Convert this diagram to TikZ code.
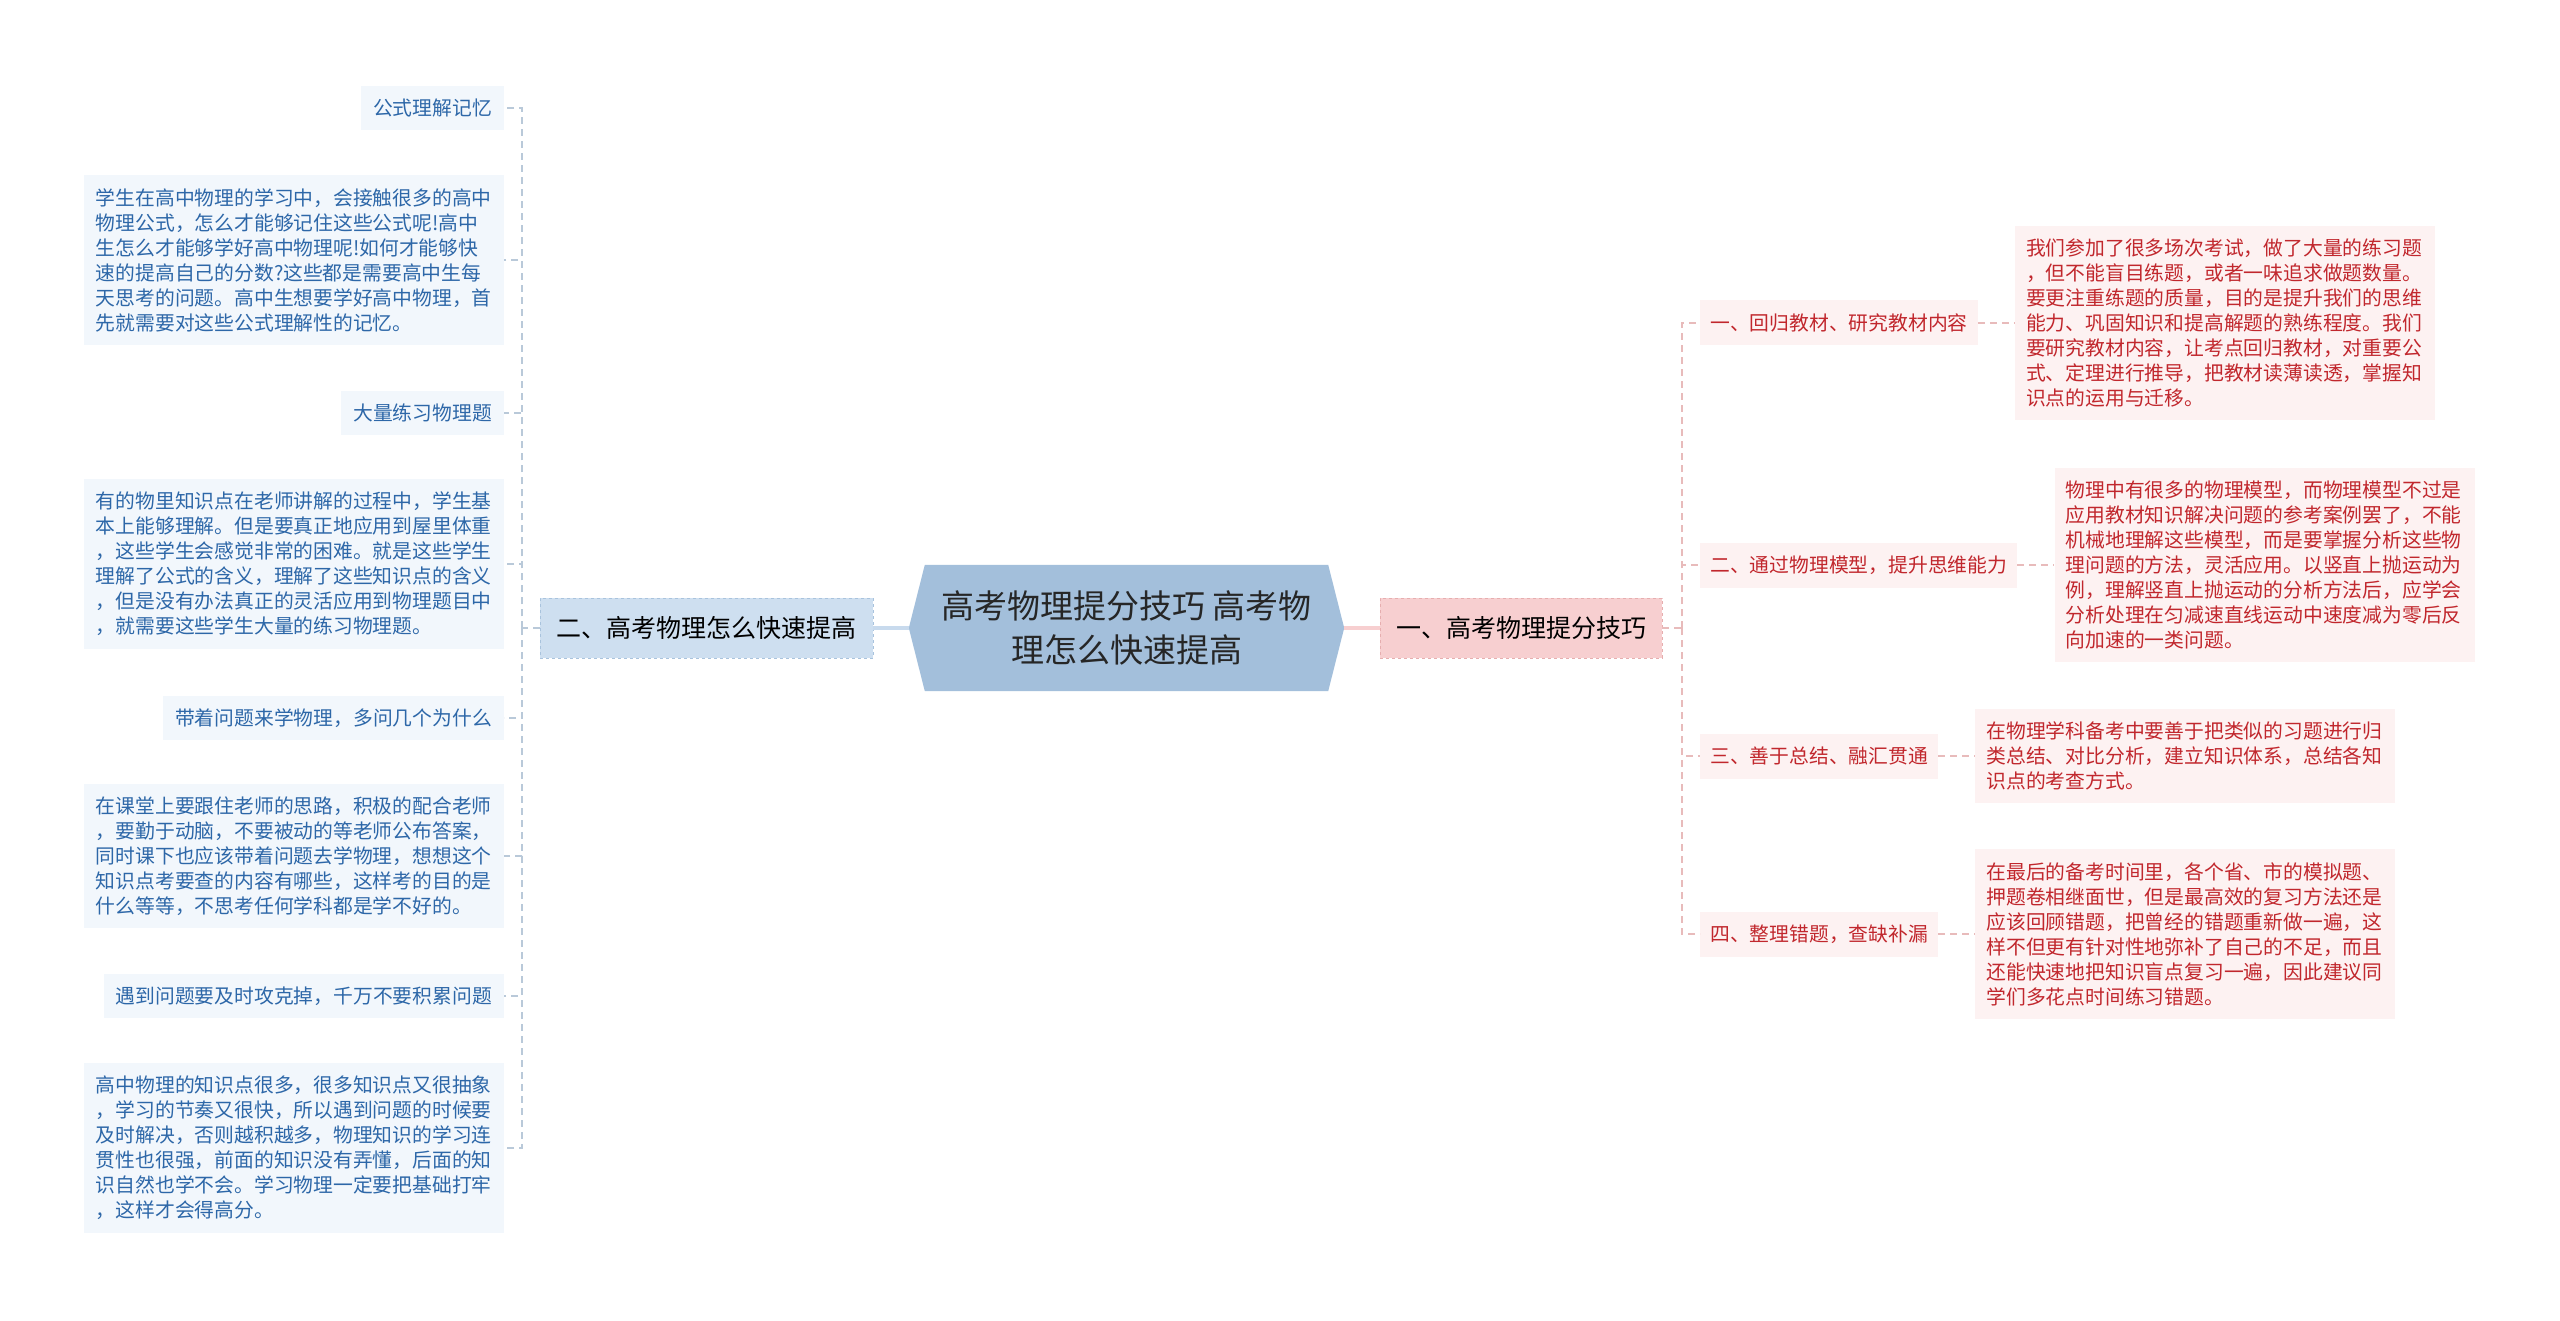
\documentclass[tikz,border=0pt]{standalone}
\usepackage{fontspec}
\setmainfont{Noto Sans CJK SC}
\usetikzlibrary{positioning,backgrounds}
\definecolor{rootblue}{HTML}{A3BFDB}
\definecolor{brblue}{HTML}{CEDFF0}
\definecolor{brblueline}{HTML}{A9C3DD}
\definecolor{brpink}{HTML}{F7CFD0}
\definecolor{brpinkline}{HTML}{E6AEAF}
\definecolor{leafbg}{HTML}{F2F7FC}
\definecolor{leafblue}{HTML}{2D67A8}
\definecolor{leafpink}{HTML}{FDF2F2}
\definecolor{leafred}{HTML}{C1272D}
\definecolor{linkblue}{HTML}{B9C9D9}
\definecolor{linkpink}{HTML}{E8BBBB}

\begin{document}
\begin{tikzpicture}[x=1pt,y=-1pt,
  small/.style={font=\fontsize{19.8pt}{25pt}\selectfont},
  leafL/.style={small,fill=leafbg,text=leafblue,inner xsep=12pt,inner ysep=13pt,anchor=east,align=left},
  paraL/.style={leafL,text width=396pt},
  subR/.style={small,fill=leafpink,text=leafred,inner xsep=10pt,minimum height=45pt,anchor=west},
  paraR/.style={small,fill=leafpink,text=leafred,inner xsep=11pt,inner ysep=13pt,text width=398pt,align=left},
  linkL/.style={draw=linkblue,line width=1.5pt,dash pattern=on 7pt off 5pt},
  linkR/.style={draw=linkpink,line width=1.5pt,dash pattern=on 7pt off 5pt}]
\useasboundingbox (0,0) rectangle (2560,1321);

% root
\node[font=\fontsize{33pt}{44pt}\selectfont,text=black!85,align=center,minimum width=435pt,minimum height=126pt] (root) at (1126.5,628) {高考物理提分技巧 高考物\\理怎么快速提高};
\begin{scope}[on background layer]
  \fill[rootblue] ([xshift=16pt]root.north west) -- ([xshift=-16pt]root.north east) -- (root.east)
    -- ([xshift=-16pt]root.south east) -- ([xshift=16pt]root.south west) -- (root.west) -- cycle;
\end{scope}

% main branches
\node[font=\fontsize{25pt}{30pt}\selectfont,fill=brblue,draw=brblueline,dashed,minimum width=333pt,minimum height=60pt] (brL) at (706.5,628) {二、高考物理怎么快速提高};
\node[font=\fontsize{25pt}{30pt}\selectfont,fill=brpink,draw=brpinkline,dashed,minimum width=282pt,minimum height=60pt] (brR) at (1521,628) {一、高考物理提分技巧};
\draw[draw=brblue!85!rootblue,line width=4pt] (root.west) -- (brL.east);
\draw[draw=brpink,line width=4pt] (root.east) -- (brR.west);

% left leaves
\node[leafL] (l1) at (504,108) {公式理解记忆};
\node[paraL] (l2) at (504,260) {学生在高中物理的学习中，会接触很多的高中\\物理公式，怎么才能够记住这些公式呢!高中\\生怎么才能够学好高中物理呢!如何才能够快\\速的提高自己的分数?这些都是需要高中生每\\天思考的问题。高中生想要学好高中物理，首\\先就需要对这些公式理解性的记忆。};
\node[leafL] (l3) at (504,413) {大量练习物理题};
\node[paraL] (l4) at (504,564) {有的物里知识点在老师讲解的过程中，学生基\\本上能够理解。但是要真正地应用到屋里体重\\，这些学生会感觉非常的困难。就是这些学生\\理解了公式的含义，理解了这些知识点的含义\\，但是没有办法真正的灵活应用到物理题目中\\，就需要这些学生大量的练习物理题。};
\node[leafL] (l5) at (504,718) {带着问题来学物理，多问几个为什么};
\node[paraL] (l6) at (504,856) {在课堂上要跟住老师的思路，积极的配合老师\\，要勤于动脑，不要被动的等老师公布答案，\\同时课下也应该带着问题去学物理，想想这个\\知识点考要查的内容有哪些，这样考的目的是\\什么等等，不思考任何学科都是学不好的。};
\node[leafL] (l7) at (504,996) {遇到问题要及时攻克掉，千万不要积累问题};
\node[paraL] (l8) at (504,1148) {高中物理的知识点很多，很多知识点又很抽象\\，学习的节奏又很快，所以遇到问题的时候要\\及时解决，否则越积越多，物理知识的学习连\\贯性也很强，前面的知识没有弄懂，后面的知\\识自然也学不会。学习物理一定要把基础打牢\\，这样才会得高分。};

\coordinate (spL) at (522,628);
\draw[linkL] (brL.west) -- (spL);
\foreach \n in {l1,l2,l3,l4,l5,l6,l7,l8}
  \draw[linkL] (spL) |- (\n.east);

% right subs
\node[subR] (r1) at (1700,323) {一、回归教材、研究教材内容};
\node[subR] (r2) at (1700,565) {二、通过物理模型，提升思维能力};
\node[subR] (r3) at (1700,756) {三、善于总结、融汇贯通};
\node[subR] (r4) at (1700,934) {四、整理错题，查缺补漏};

\node[paraR,right=37pt of r1] (t1) {我们参加了很多场次考试，做了大量的练习题\\，但不能盲目练题，或者一味追求做题数量。\\要更注重练题的质量，目的是提升我们的思维\\能力、巩固知识和提高解题的熟练程度。我们\\要研究教材内容，让考点回归教材，对重要公\\式、定理进行推导，把教材读薄读透，掌握知\\识点的运用与迁移。};
\node[paraR,right=37pt of r2] (t2) {物理中有很多的物理模型，而物理模型不过是\\应用教材知识解决问题的参考案例罢了，不能\\机械地理解这些模型，而是要掌握分析这些物\\理问题的方法，灵活应用。以竖直上抛运动为\\例，理解竖直上抛运动的分析方法后，应学会\\分析处理在匀减速直线运动中速度减为零后反\\向加速的一类问题。};
\node[paraR,right=37pt of r3] (t3) {在物理学科备考中要善于把类似的习题进行归\\类总结、对比分析，建立知识体系，总结各知\\识点的考查方式。};
\node[paraR,right=37pt of r4] (t4) {在最后的备考时间里，各个省、市的模拟题、\\押题卷相继面世，但是最高效的复习方法还是\\应该回顾错题，把曾经的错题重新做一遍，这\\样不但更有针对性地弥补了自己的不足，而且\\还能快速地把知识盲点复习一遍，因此建议同\\学们多花点时间练习错题。};

\coordinate (spR) at (1682,628);
\draw[linkR] (brR.east) -- (spR);
\foreach \n in {r1,r2,r3,r4}
  \draw[linkR] (spR) |- (\n.west);
\foreach \n in {1,2,3,4}
  \draw[linkR] (r\n.east) -- (t\n.west);
\end{tikzpicture}
\end{document}
